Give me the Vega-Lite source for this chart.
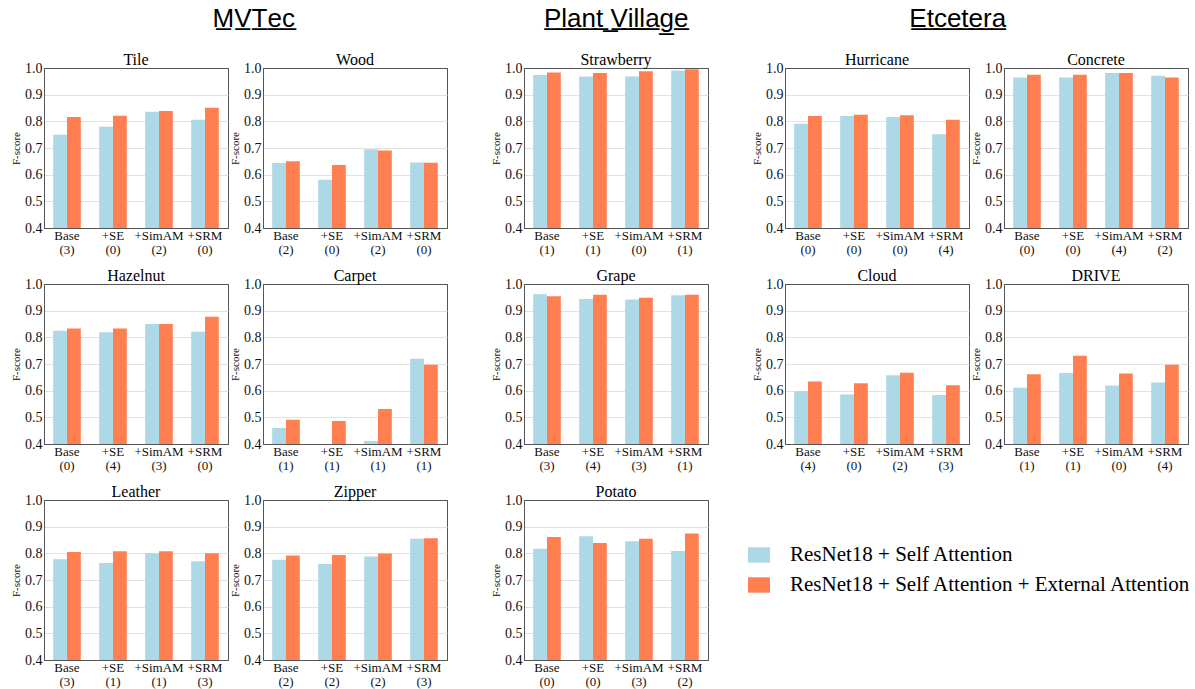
{
  "$schema": "https://vega.github.io/schema/vega-lite/v6.json",
  "padding": {"left": 10, "top": 5, "right": 0, "bottom": 0},
  "background": "white",
  "data": {"values": [
    {"panel":"Tile","label":"Base|(3)","sa":0.750,"ea":0.816},
    {"panel":"Tile","label":"+SE|(0)","sa":0.780,"ea":0.821},
    {"panel":"Tile","label":"+SimAM|(2)","sa":0.836,"ea":0.839},
    {"panel":"Tile","label":"+SRM|(0)","sa":0.806,"ea":0.851},
    {"panel":"Wood","label":"Base|(2)","sa":0.644,"ea":0.650},
    {"panel":"Wood","label":"+SE|(0)","sa":0.581,"ea":0.636},
    {"panel":"Wood","label":"+SimAM|(2)","sa":0.695,"ea":0.691},
    {"panel":"Wood","label":"+SRM|(0)","sa":0.646,"ea":0.645},
    {"panel":"Hazelnut","label":"Base|(0)","sa":0.825,"ea":0.833},
    {"panel":"Hazelnut","label":"+SE|(4)","sa":0.819,"ea":0.833},
    {"panel":"Hazelnut","label":"+SimAM|(3)","sa":0.850,"ea":0.850},
    {"panel":"Hazelnut","label":"+SRM|(0)","sa":0.821,"ea":0.877},
    {"panel":"Carpet","label":"Base|(1)","sa":0.460,"ea":0.491},
    {"panel":"Carpet","label":"+SE|(1)","sa":0.390,"ea":0.486},
    {"panel":"Carpet","label":"+SimAM|(1)","sa":0.411,"ea":0.531},
    {"panel":"Carpet","label":"+SRM|(1)","sa":0.720,"ea":0.697},
    {"panel":"Leather","label":"Base|(3)","sa":0.778,"ea":0.805},
    {"panel":"Leather","label":"+SE|(1)","sa":0.764,"ea":0.808},
    {"panel":"Leather","label":"+SimAM|(1)","sa":0.800,"ea":0.808},
    {"panel":"Leather","label":"+SRM|(3)","sa":0.770,"ea":0.800},
    {"panel":"Zipper","label":"Base|(2)","sa":0.776,"ea":0.792},
    {"panel":"Zipper","label":"+SE|(2)","sa":0.760,"ea":0.794},
    {"panel":"Zipper","label":"+SimAM|(2)","sa":0.788,"ea":0.799},
    {"panel":"Zipper","label":"+SRM|(3)","sa":0.855,"ea":0.857},
    {"panel":"Strawberry","label":"Base|(1)","sa":0.974,"ea":0.983},
    {"panel":"Strawberry","label":"+SE|(1)","sa":0.968,"ea":0.981},
    {"panel":"Strawberry","label":"+SimAM|(0)","sa":0.968,"ea":0.988},
    {"panel":"Strawberry","label":"+SRM|(1)","sa":0.991,"ea":0.995},
    {"panel":"Grape","label":"Base|(3)","sa":0.962,"ea":0.954},
    {"panel":"Grape","label":"+SE|(4)","sa":0.944,"ea":0.960},
    {"panel":"Grape","label":"+SimAM|(3)","sa":0.942,"ea":0.948},
    {"panel":"Grape","label":"+SRM|(1)","sa":0.958,"ea":0.960},
    {"panel":"Potato","label":"Base|(0)","sa":0.817,"ea":0.861},
    {"panel":"Potato","label":"+SE|(0)","sa":0.864,"ea":0.839},
    {"panel":"Potato","label":"+SimAM|(3)","sa":0.845,"ea":0.855},
    {"panel":"Potato","label":"+SRM|(2)","sa":0.809,"ea":0.874},
    {"panel":"Hurricane","label":"Base|(0)","sa":0.791,"ea":0.820},
    {"panel":"Hurricane","label":"+SE|(0)","sa":0.820,"ea":0.825},
    {"panel":"Hurricane","label":"+SimAM|(0)","sa":0.816,"ea":0.823},
    {"panel":"Hurricane","label":"+SRM|(4)","sa":0.752,"ea":0.806},
    {"panel":"Concrete","label":"Base|(0)","sa":0.964,"ea":0.975},
    {"panel":"Concrete","label":"+SE|(0)","sa":0.964,"ea":0.975},
    {"panel":"Concrete","label":"+SimAM|(4)","sa":0.981,"ea":0.981},
    {"panel":"Concrete","label":"+SRM|(2)","sa":0.971,"ea":0.964},
    {"panel":"Cloud","label":"Base|(4)","sa":0.598,"ea":0.634},
    {"panel":"Cloud","label":"+SE|(0)","sa":0.586,"ea":0.628},
    {"panel":"Cloud","label":"+SimAM|(2)","sa":0.658,"ea":0.667},
    {"panel":"Cloud","label":"+SRM|(3)","sa":0.584,"ea":0.620},
    {"panel":"DRIVE","label":"Base|(1)","sa":0.611,"ea":0.662},
    {"panel":"DRIVE","label":"+SE|(1)","sa":0.666,"ea":0.731},
    {"panel":"DRIVE","label":"+SimAM|(0)","sa":0.619,"ea":0.664},
    {"panel":"DRIVE","label":"+SRM|(4)","sa":0.631,"ea":0.697}
  ]},
  "transform": [{"fold": ["sa", "ea"], "as": ["series", "value"]}],
  "spacing": 42,
  "hconcat": [
    {
      "title": {"text": "M\u0332V\u0332T\u0332e\u0332c\u0332", "dx": 25, "font": "Liberation Sans", "fontSize": 26, "fontWeight": "normal", "offset": 20},
      "spacing": 10,
      "vconcat": [
        {"spacing": 0, "hconcat": [
          {"title": "Tile", "transform": [{"filter": "datum.panel == 'Tile'"}], "width": 184, "height": 160, "mark": {"type": "bar", "clip": true},
           "encoding": {"x": {"field": "label", "type": "nominal", "sort": null, "scale": {"paddingInner": 0.4, "paddingOuter": 0.2}, "title": null},
             "xOffset": {"field": "series", "type": "nominal", "sort": ["sa", "ea"]},
             "y": {"field": "value", "type": "quantitative", "scale": {"domain": [0.4, 1.0], "zero": false, "nice": false}, "title": "F-score", "axis": {"values": [0.4, 0.5, 0.6, 0.7, 0.8, 0.9, 1.0], "format": ".1f"}},
             "color": {"field": "series", "type": "nominal", "scale": {"domain": ["sa", "ea"], "range": ["#ADD8E6", "#FF7F50"]},
               "legend": {"orient": "none", "legendX": 704, "legendY": 476, "title": null, "symbolType": "M-1,-0.7H1V0.7H-1Z", "symbolSize": 484, "symbolStrokeWidth": 0, "symbolOpacity": 1, "labelFontSize": 21, "labelFont": "Liberation Serif", "labelColor": "#000", "labelOffset": 20, "rowPadding": 9, "padding": 0, "labelLimit": 0,
                 "labelExpr": "datum.label == 'sa' ? 'ResNet18 + Self Attention' : 'ResNet18 + Self Attention + External Attention'"}}}},
          {"title": "Wood", "transform": [{"filter": "datum.panel == 'Wood'"}], "width": 184, "height": 160, "mark": {"type": "bar", "clip": true},
           "encoding": {"x": {"field": "label", "type": "nominal", "sort": null, "scale": {"paddingInner": 0.4, "paddingOuter": 0.2}, "title": null},
             "xOffset": {"field": "series", "type": "nominal", "sort": ["sa", "ea"]},
             "y": {"field": "value", "type": "quantitative", "scale": {"domain": [0.4, 1.0], "zero": false, "nice": false}, "title": "F-score", "axis": {"values": [0.4, 0.5, 0.6, 0.7, 0.8, 0.9, 1.0], "format": ".1f"}},
             "color": {"field": "series", "type": "nominal", "scale": {"domain": ["sa", "ea"], "range": ["#ADD8E6", "#FF7F50"]}}}}
        ]},
        {"spacing": 0, "hconcat": [
          {"title": "Hazelnut", "transform": [{"filter": "datum.panel == 'Hazelnut'"}], "width": 184, "height": 160, "mark": {"type": "bar", "clip": true},
           "encoding": {"x": {"field": "label", "type": "nominal", "sort": null, "scale": {"paddingInner": 0.4, "paddingOuter": 0.2}, "title": null},
             "xOffset": {"field": "series", "type": "nominal", "sort": ["sa", "ea"]},
             "y": {"field": "value", "type": "quantitative", "scale": {"domain": [0.4, 1.0], "zero": false, "nice": false}, "title": "F-score", "axis": {"values": [0.4, 0.5, 0.6, 0.7, 0.8, 0.9, 1.0], "format": ".1f"}},
             "color": {"field": "series", "type": "nominal", "scale": {"domain": ["sa", "ea"], "range": ["#ADD8E6", "#FF7F50"]}}}},
          {"title": "Carpet", "transform": [{"filter": "datum.panel == 'Carpet'"}], "width": 184, "height": 160, "mark": {"type": "bar", "clip": true},
           "encoding": {"x": {"field": "label", "type": "nominal", "sort": null, "scale": {"paddingInner": 0.4, "paddingOuter": 0.2}, "title": null},
             "xOffset": {"field": "series", "type": "nominal", "sort": ["sa", "ea"]},
             "y": {"field": "value", "type": "quantitative", "scale": {"domain": [0.4, 1.0], "zero": false, "nice": false}, "title": "F-score", "axis": {"values": [0.4, 0.5, 0.6, 0.7, 0.8, 0.9, 1.0], "format": ".1f"}},
             "color": {"field": "series", "type": "nominal", "scale": {"domain": ["sa", "ea"], "range": ["#ADD8E6", "#FF7F50"]}}}}
        ]},
        {"spacing": 0, "hconcat": [
          {"title": "Leather", "transform": [{"filter": "datum.panel == 'Leather'"}], "width": 184, "height": 160, "mark": {"type": "bar", "clip": true},
           "encoding": {"x": {"field": "label", "type": "nominal", "sort": null, "scale": {"paddingInner": 0.4, "paddingOuter": 0.2}, "title": null},
             "xOffset": {"field": "series", "type": "nominal", "sort": ["sa", "ea"]},
             "y": {"field": "value", "type": "quantitative", "scale": {"domain": [0.4, 1.0], "zero": false, "nice": false}, "title": "F-score", "axis": {"values": [0.4, 0.5, 0.6, 0.7, 0.8, 0.9, 1.0], "format": ".1f"}},
             "color": {"field": "series", "type": "nominal", "scale": {"domain": ["sa", "ea"], "range": ["#ADD8E6", "#FF7F50"]}}}},
          {"title": "Zipper", "transform": [{"filter": "datum.panel == 'Zipper'"}], "width": 184, "height": 160, "mark": {"type": "bar", "clip": true},
           "encoding": {"x": {"field": "label", "type": "nominal", "sort": null, "scale": {"paddingInner": 0.4, "paddingOuter": 0.2}, "title": null},
             "xOffset": {"field": "series", "type": "nominal", "sort": ["sa", "ea"]},
             "y": {"field": "value", "type": "quantitative", "scale": {"domain": [0.4, 1.0], "zero": false, "nice": false}, "title": "F-score", "axis": {"values": [0.4, 0.5, 0.6, 0.7, 0.8, 0.9, 1.0], "format": ".1f"}},
             "color": {"field": "series", "type": "nominal", "scale": {"domain": ["sa", "ea"], "range": ["#ADD8E6", "#FF7F50"]}}}}
        ]}
      ]
    },
    {
      "title": {"text": "P\u0332l\u0332a\u0332n\u0332t\u0332 \u0332V\u0332i\u0332l\u0332l\u0332a\u0332g\u0332e\u0332", "dx": 17, "font": "Liberation Sans", "fontSize": 26, "fontWeight": "normal", "offset": 20},
      "spacing": 10,
      "vconcat": [
        {"title": "Strawberry", "transform": [{"filter": "datum.panel == 'Strawberry'"}], "width": 184, "height": 160, "mark": {"type": "bar", "clip": true},
         "encoding": {"x": {"field": "label", "type": "nominal", "sort": null, "scale": {"paddingInner": 0.4, "paddingOuter": 0.2}, "title": null},
           "xOffset": {"field": "series", "type": "nominal", "sort": ["sa", "ea"]},
           "y": {"field": "value", "type": "quantitative", "scale": {"domain": [0.4, 1.0], "zero": false, "nice": false}, "title": "F-score", "axis": {"values": [0.4, 0.5, 0.6, 0.7, 0.8, 0.9, 1.0], "format": ".1f"}},
           "color": {"field": "series", "type": "nominal", "scale": {"domain": ["sa", "ea"], "range": ["#ADD8E6", "#FF7F50"]}}}},
        {"title": "Grape", "transform": [{"filter": "datum.panel == 'Grape'"}], "width": 184, "height": 160, "mark": {"type": "bar", "clip": true},
         "encoding": {"x": {"field": "label", "type": "nominal", "sort": null, "scale": {"paddingInner": 0.4, "paddingOuter": 0.2}, "title": null},
           "xOffset": {"field": "series", "type": "nominal", "sort": ["sa", "ea"]},
           "y": {"field": "value", "type": "quantitative", "scale": {"domain": [0.4, 1.0], "zero": false, "nice": false}, "title": "F-score", "axis": {"values": [0.4, 0.5, 0.6, 0.7, 0.8, 0.9, 1.0], "format": ".1f"}},
           "color": {"field": "series", "type": "nominal", "scale": {"domain": ["sa", "ea"], "range": ["#ADD8E6", "#FF7F50"]}}}},
        {"title": "Potato", "transform": [{"filter": "datum.panel == 'Potato'"}], "width": 184, "height": 160, "mark": {"type": "bar", "clip": true},
         "encoding": {"x": {"field": "label", "type": "nominal", "sort": null, "scale": {"paddingInner": 0.4, "paddingOuter": 0.2}, "title": null},
           "xOffset": {"field": "series", "type": "nominal", "sort": ["sa", "ea"]},
           "y": {"field": "value", "type": "quantitative", "scale": {"domain": [0.4, 1.0], "zero": false, "nice": false}, "title": "F-score", "axis": {"values": [0.4, 0.5, 0.6, 0.7, 0.8, 0.9, 1.0], "format": ".1f"}},
           "color": {"field": "series", "type": "nominal", "scale": {"domain": ["sa", "ea"], "range": ["#ADD8E6", "#FF7F50"]}}}}
      ]
    },
    {
      "title": {"text": "E\u0332t\u0332c\u0332e\u0332t\u0332e\u0332r\u0332a\u0332", "dx": -12, "font": "Liberation Sans", "fontSize": 26, "fontWeight": "normal", "offset": 20},
      "spacing": 10,
      "vconcat": [
        {"spacing": 0, "hconcat": [
          {"title": "Hurricane", "transform": [{"filter": "datum.panel == 'Hurricane'"}], "width": 184, "height": 160, "mark": {"type": "bar", "clip": true},
           "encoding": {"x": {"field": "label", "type": "nominal", "sort": null, "scale": {"paddingInner": 0.4, "paddingOuter": 0.2}, "title": null},
             "xOffset": {"field": "series", "type": "nominal", "sort": ["sa", "ea"]},
             "y": {"field": "value", "type": "quantitative", "scale": {"domain": [0.4, 1.0], "zero": false, "nice": false}, "title": "F-score", "axis": {"values": [0.4, 0.5, 0.6, 0.7, 0.8, 0.9, 1.0], "format": ".1f"}},
             "color": {"field": "series", "type": "nominal", "scale": {"domain": ["sa", "ea"], "range": ["#ADD8E6", "#FF7F50"]}}}},
          {"title": "Concrete", "transform": [{"filter": "datum.panel == 'Concrete'"}], "width": 184, "height": 160, "mark": {"type": "bar", "clip": true},
           "encoding": {"x": {"field": "label", "type": "nominal", "sort": null, "scale": {"paddingInner": 0.4, "paddingOuter": 0.2}, "title": null},
             "xOffset": {"field": "series", "type": "nominal", "sort": ["sa", "ea"]},
             "y": {"field": "value", "type": "quantitative", "scale": {"domain": [0.4, 1.0], "zero": false, "nice": false}, "title": "F-score", "axis": {"values": [0.4, 0.5, 0.6, 0.7, 0.8, 0.9, 1.0], "format": ".1f"}},
             "color": {"field": "series", "type": "nominal", "scale": {"domain": ["sa", "ea"], "range": ["#ADD8E6", "#FF7F50"]}}}}
        ]},
        {"spacing": 0, "hconcat": [
          {"title": "Cloud", "transform": [{"filter": "datum.panel == 'Cloud'"}], "width": 184, "height": 160, "mark": {"type": "bar", "clip": true},
           "encoding": {"x": {"field": "label", "type": "nominal", "sort": null, "scale": {"paddingInner": 0.4, "paddingOuter": 0.2}, "title": null},
             "xOffset": {"field": "series", "type": "nominal", "sort": ["sa", "ea"]},
             "y": {"field": "value", "type": "quantitative", "scale": {"domain": [0.4, 1.0], "zero": false, "nice": false}, "title": "F-score", "axis": {"values": [0.4, 0.5, 0.6, 0.7, 0.8, 0.9, 1.0], "format": ".1f"}},
             "color": {"field": "series", "type": "nominal", "scale": {"domain": ["sa", "ea"], "range": ["#ADD8E6", "#FF7F50"]}}}},
          {"title": "DRIVE", "transform": [{"filter": "datum.panel == 'DRIVE'"}], "width": 184, "height": 160, "mark": {"type": "bar", "clip": true},
           "encoding": {"x": {"field": "label", "type": "nominal", "sort": null, "scale": {"paddingInner": 0.4, "paddingOuter": 0.2}, "title": null},
             "xOffset": {"field": "series", "type": "nominal", "sort": ["sa", "ea"]},
             "y": {"field": "value", "type": "quantitative", "scale": {"domain": [0.4, 1.0], "zero": false, "nice": false}, "title": "F-score", "axis": {"values": [0.4, 0.5, 0.6, 0.7, 0.8, 0.9, 1.0], "format": ".1f"}},
             "color": {"field": "series", "type": "nominal", "scale": {"domain": ["sa", "ea"], "range": ["#ADD8E6", "#FF7F50"]}}}}
        ]}
      ]
    }
  ],
  "config": {
    "font": "Liberation Serif",
    "view": {"stroke": "#555", "strokeWidth": 1},
    "title": {"font": "Liberation Serif", "fontSize": 16, "fontWeight": "normal", "color": "#000", "anchor": "middle", "offset": -7},
    "axis": {"ticks": false, "labelFont": "Liberation Serif", "labelColor": "#111", "titleFont": "Liberation Serif", "titleFontWeight": "normal", "titleColor": "#111", "domain": true, "domainColor": "#555", "domainWidth": 1},
    "axisX": {"grid": false, "labelFontSize": 13, "labelPadding": 1, "labelLineHeight": 14, "labelAngle": 0, "labelExpr": "split(datum.label, '|')"},
    "axisY": {"grid": true, "gridColor": {"condition": {"test": "datum.value <= 0.4 || datum.value >= 1", "value": "#555"}, "value": "#e2e2e2"}, "gridWidth": 1, "labelFontSize": 14, "labelPadding": 2, "titleFontSize": 11, "titlePadding": 3},
    "scale": {"offsetBandPaddingInner": 0, "offsetBandPaddingOuter": 0}
  }
}
